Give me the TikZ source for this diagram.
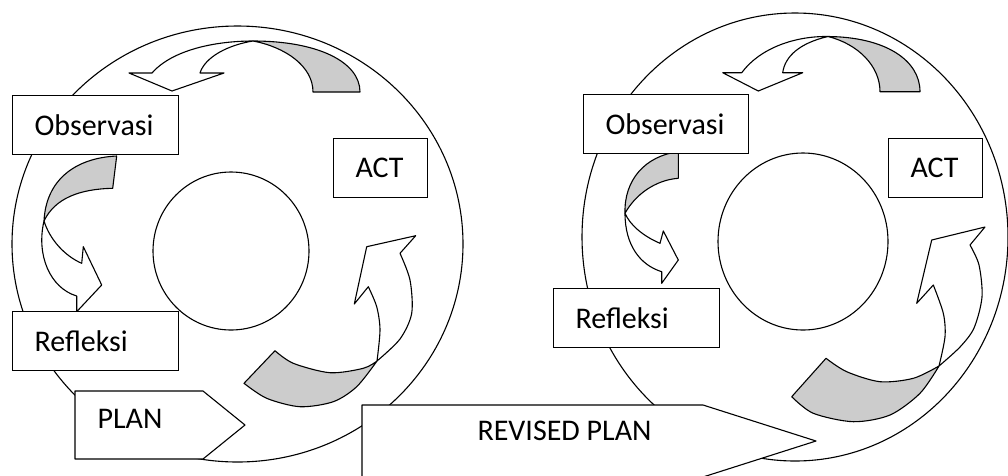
\documentclass[tikz,border=0pt]{standalone}
\usepackage{fontspec}
\setmainfont{Carlito}

\tikzset{
	stagebox/.style={draw, fill=white, anchor=north west, inner xsep=22pt, inner ysep=0pt, minimum height=59pt, align=left, font=\fontsize{30}{36}\selectfont},
	stagetext/.style={anchor=base west, inner sep=0pt, font=\fontsize{30}{36}\selectfont},
	backface/.style={draw, fill=black!20, line join=round},
	frontface/.style={draw, fill=white, line join=round}
}

\begin{document}
\begin{tikzpicture}[x=1pt, y=-1pt, line width=1.1pt]
		\useasboundingbox (0,0) rectangle (1008,475);
		
		% cycle 1
		\draw (237.5,244) ellipse [x radius=225.5, y radius=218];
		\draw (231,251) ellipse [x radius=78, y radius=79];
		
		% cycle 2
		\draw (795,237) ellipse [x radius=213, y radius=224];
		\draw (803,241.5) ellipse [x radius=85, y radius=88.5];
		
		% top arrows
		\filldraw[backface] (253,41) .. controls (318,41) and (360,62) .. (360,92) -- (313,92) .. controls (313,66) and (285,47) .. (253,41) -- cycle;
		\filldraw[frontface] (152,73) .. controls (172,50) and (215,41) .. (253,41) .. controls (228,45) and (205,57) .. (200,73) -- (224,73) -- (172,91) -- (129,73) -- cycle;
		
		\filldraw[backface] (828,36.5) .. controls (885,37) and (920,60) .. (920,91.7) -- (880,91.7) .. controls (880,66) and (858,44) .. (828,36.5) -- cycle;
		\filldraw[frontface] (741.7,72.7) .. controls (760,48) and (795,36) .. (828,36.5) .. controls (800,43) and (785,56) .. (782.7,72.7) -- (802.7,72.7) -- (758.3,91) -- (722.7,72.7) -- cycle;
		
		% side arrows
		\filldraw[backface] (112.7,188.3) -- (116.7,156) .. controls (75,158) and (46,180) .. (44,221) .. controls (55,198) and (80,189) .. (112.7,188.3) -- cycle;
		\filldraw[frontface] (44,221) .. controls (36,255) and (50,288) .. (76.7,296) -- (76.7,311.7) -- (101.7,285) -- (83.3,246.7) -- (81.7,263.3) .. controls (65,256) and (50,240) .. (44,221) -- cycle;
		
		\filldraw[backface] (678.3,178.3) -- (678.3,151.7) .. controls (645,156) and (624,180) .. (625,213.3) .. controls (635,195) and (655,180) .. (678.3,178.3) -- cycle;
		\filldraw[frontface] (625,213.3) .. controls (625,245) and (640,265) .. (661.7,271.7) -- (661.7,283.3) -- (678.3,260) -- (663.3,231) -- (660,243.3) .. controls (643,236) and (630,225) .. (625,213.3) -- cycle;
		
		% bottom arrows
		\filldraw[backface] (275,350.7) -- (244,383.3) -- plot[smooth] coordinates {(244,383.3) (266.7,398.3) (300,406.7) (333.3,401.7) (356.7,386.7) (377,361)} -- plot[smooth] coordinates {(377,361) (363.3,368.3) (330,372.7) (293.3,363.3) (275,350.7)} -- cycle;
		\filldraw[frontface] plot[smooth] coordinates {(377,361) (380,330) (376.7,306.7) (368.3,286.7)} -- (354.3,304) -- (366.7,246.7) -- (415.7,235.7) -- (400,253.3) -- plot[smooth] coordinates {(400,253.3) (410,280) (411.7,313.3) (400,339) (377,361)} -- cycle;
		
		\filldraw[backface] (826,358.3) -- (791.7,396.7) -- plot[smooth] coordinates {(791.7,396.7) (813.3,413.3) (853.3,421.7) (890,415) (920,393.3) (939,366)} -- plot[smooth] coordinates {(939,366) (913.3,378.3) (880,381.7) (846.7,371.7) (826,358.3)} -- cycle;
		\filldraw[frontface] plot[smooth] coordinates {(939,366) (945,336.7) (943.3,313.3) (933.3,285)} -- (916.7,303.3) -- (931.7,240) -- (985,227) -- (970,245) -- plot[smooth] coordinates {(970,245) (979,265) (982,297) (974,328) (960,347) (939,366)} -- cycle;
		
		% stages
		\node[stagebox, text width=122pt] (obs1) at (12,95) {Observasi};
		\node[stagebox, text width=50pt] (act1) at (333,138) {ACT};
		\node[stagebox, text width=122pt] (ref1) at (12,311) {Refleksi};
		\node[stagebox, text width=121pt] (obs2) at (583,94) {Observasi};
		\node[stagebox, text width=50pt] (act2) at (888,138) {ACT};
		\node[stagebox, text width=122pt] (ref2) at (553,288) {Refleksi};
		
		% plans
		\filldraw[frontface] (75,391) -- (203,391) -- (245,425) -- (203,459) -- (75,459) -- cycle;
		\node[stagetext] (plan) at (97,428.3) {PLAN};
		\filldraw[frontface] (362,405) -- (703,405) -- (816,441) -- (703,477) -- (362,477) -- cycle;
		\node[stagetext] (revplan) at (477,440.7) {REVISED PLAN};
		
	\end{tikzpicture}
\end{document}
